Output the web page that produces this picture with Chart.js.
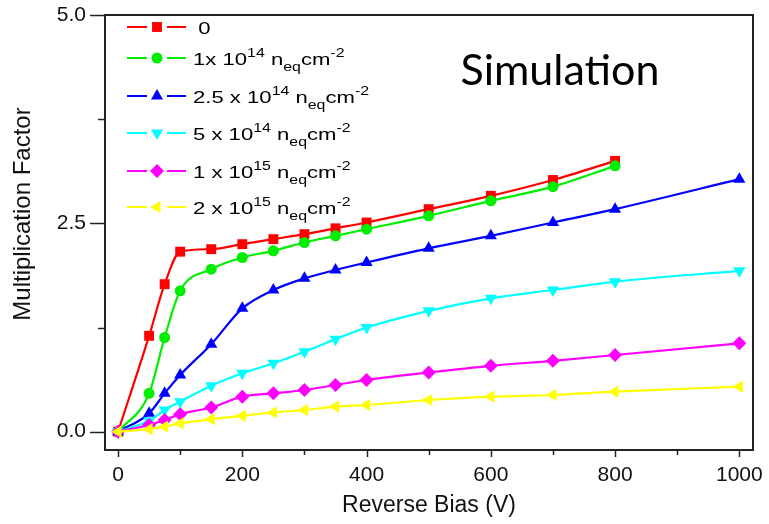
<!DOCTYPE html>
<html>
<head>
<meta charset="utf-8">
<script src="https://cdn.jsdelivr.net/npm/chart.js@4"></script>
<style>
  html, body { margin: 0; padding: 0; background: #fff; }
  #wrap { width: 769px; height: 524px; }
</style>
</head>
<body>
<div id="wrap"><canvas id="mfChart"></canvas></div>
<script>
// reverse bias points (V)
const bias = [0, 50, 75, 100, 150, 200, 250, 300, 350, 400, 500, 600, 700, 800, 1000];

// multiplication factor per fluence
const mf0     = [0, 1.15, 1.77, 2.16, 2.19, 2.25, 2.31, 2.37, 2.44, 2.51, 2.67, 2.83, 3.02, 3.25, null];
const mf1e14  = [0, 0.46, 1.13, 1.69, 1.95, 2.09, 2.17, 2.27, 2.35, 2.43, 2.59, 2.77, 2.94, 3.19, null];
const mf25e14 = [0, 0.22, 0.46, 0.68, 1.05, 1.48, 1.70, 1.84, 1.94, 2.03, 2.20, 2.35, 2.51, 2.67, 3.03];
const mf5e14  = [0, 0.13, 0.26, 0.36, 0.55, 0.70, 0.82, 0.96, 1.11, 1.25, 1.45, 1.60, 1.70, 1.80, 1.93];
const mf1e15  = [0, 0.08, 0.14, 0.21, 0.29, 0.42, 0.46, 0.50, 0.56, 0.62, 0.71, 0.79, 0.85, 0.92, 1.06];
const mf2e15  = [0, 0.03, 0.06, 0.10, 0.15, 0.19, 0.23, 0.26, 0.30, 0.32, 0.38, 0.42, 0.44, 0.48, 0.54];

// legend text: ^{..} superscript, _{..} subscript
const seriesLabels = [
  '0',
  '1x 10^{14} n_{eq}cm^{-2}',
  '2.5 x 10^{14} n_{eq}cm^{-2}',
  '5 x 10^{14} n_{eq}cm^{-2}',
  '1 x 10^{15} n_{eq}cm^{-2}',
  '2 x 10^{15} n_{eq}cm^{-2}'
];

const xTicks = [0, 100, 200, 300, 400, 500, 600, 700, 800, 900, 1000];
const yTicks = [0, 1.25, 2.5, 3.75, 5];

const colors = ['#ff0000', '#00ee00', '#0000ff', '#00ffff', '#ff00ff', '#ffff00'];
const styles = [
  { pointStyle: 'rect', rotation: 0, radius: 7 },
  { pointStyle: 'circle', rotation: 0, radius: 5.5 },
  { pointStyle: 'triangle', rotation: 0, radius: 7 },
  { pointStyle: 'triangle', rotation: 180, radius: 7 },
  { pointStyle: 'rectRot', rotation: 0, radius: 7 },
  { pointStyle: 'triangle', rotation: 270, radius: 7 }
];

const series = [mf0, mf1e14, mf25e14, mf5e14, mf1e15, mf2e15];

const datasets = series.map((vals, i) => ({
  label: seriesLabels[i],
  data: bias.map((b, k) => ({ x: b, y: vals[k] })).filter(p => p.y !== null),
  borderColor: colors[i],
  backgroundColor: colors[i],
  borderWidth: 2.2,
  pointStyle: styles[i].pointStyle,
  pointRotation: styles[i].rotation,
  pointRadius: styles[i].radius,
  pointHoverRadius: styles[i].radius,
  pointBorderWidth: 0,
  cubicInterpolationMode: 'monotone',
  order: series.length - i
}));

const FONT = '"Liberation Sans", Arial, sans-serif';

// draw text with simple ^{} / _{} markup
function drawRich(ctx, text, x, y, size) {
  const parts = text.split(/(\^\{[^}]*\}|_\{[^}]*\})/).filter(s => s.length);
  let cx = x;
  parts.forEach(p => {
    let t = p, dy = 0, fs = size;
    if (p.startsWith('^{')) { t = p.slice(2, -1); dy = -8; fs = size * 0.72; }
    else if (p.startsWith('_{')) { t = p.slice(2, -1); dy = 6; fs = size * 0.72; }
    ctx.font = fs + 'px ' + FONT;
    ctx.fillText(t, cx, y + dy);
    cx += ctx.measureText(t).width;
  });
}

const framePlugin = {
  id: 'frame',
  beforeDatasetsDraw(chart) {
    const { ctx, chartArea: a, scales } = chart;
    ctx.save();
    ctx.strokeStyle = '#222';
    ctx.lineWidth = 2;
    ctx.strokeRect(a.left, a.top, a.right - a.left, a.bottom - a.top);
    ctx.lineWidth = 1.5;
    ctx.beginPath();
    xTicks.forEach(v => {
      const px = Math.round(scales.x.getPixelForValue(v)) + 0.5;
      const len = v % 200 === 0 ? 7 : 5;
      ctx.moveTo(px, a.bottom);
      ctx.lineTo(px, a.bottom + len);
    });
    yTicks.forEach(v => {
      const py = Math.round(scales.y.getPixelForValue(v)) + 0.5;
      const len = v % 2.5 === 0 ? 15 : 7;
      ctx.moveTo(a.left, py);
      ctx.lineTo(a.left - len, py);
    });
    ctx.stroke();

    // y axis title
    ctx.save();
    ctx.translate(23, 214);
    ctx.rotate(-Math.PI / 2);
    ctx.font = '24px ' + FONT;
    ctx.fillStyle = '#111';
    ctx.textAlign = 'center';
    ctx.textBaseline = 'middle';
    ctx.fillText('Multiplication Factor', 0, 0);
    ctx.restore();
    ctx.restore();
  }
};

const legendPlugin = {
  id: 'inlineLegend',
  afterDatasetsDraw(chart) {
    const ctx = chart.ctx;
    const rows = [27, 58, 96, 133, 171, 207];
    ctx.save();
    chart.data.datasets.forEach((ds, i) => {
      const y = rows[i];
      ctx.strokeStyle = ds.borderColor;
      ctx.fillStyle = ds.backgroundColor;
      ctx.lineWidth = 2.2;
      ctx.beginPath();
      ctx.moveTo(127, y);
      ctx.lineTo(147, y);
      ctx.moveTo(167, y);
      ctx.lineTo(186, y);
      ctx.stroke();
      Chart.helpers.drawPoint(ctx, {
        pointStyle: ds.pointStyle, rotation: ds.pointRotation,
        radius: ds.pointRadius, borderWidth: 0
      }, 157, y);
      ctx.fillStyle = '#000';
      ctx.textBaseline = 'alphabetic';
      ctx.save();
      ctx.translate(193, y + 7);
      ctx.scale(1.3, 1);
      drawRich(ctx, ds.label, i === 0 ? 4 : 0, 0, 17);
      ctx.restore();
    });
    ctx.font = '43px Lato, "Open Sans", sans-serif';
    ctx.textAlign = 'center';
    ctx.fillStyle = '#000';
    ctx.fillText('Simulation', 560, 85);
    ctx.restore();
  }
};

const ctx = document.getElementById('mfChart').getContext('2d');
const mfChart = new Chart(ctx, {
  type: 'line',
  data: { datasets: datasets },
  options: {
    responsive: true,
    maintainAspectRatio: false,
    animation: false,
    layout: { padding: { left: 8, right: 16, top: 15, bottom: 4 } },
    plugins: {
      legend: { display: false },
      tooltip: { enabled: false }
    },
    scales: {
      x: {
        type: 'linear',
        min: -21,
        max: 1022,
        afterBuildTicks: s => { s.ticks = xTicks.map(v => ({ value: v })); },
        afterFit: s => { s.height = 70; s.paddingLeft = 0; s.paddingRight = 0; },
        grid: { display: false, drawTicks: false },
        border: { display: false },
        ticks: {
          autoSkip: false,
          maxRotation: 0,
          padding: 13,
          color: '#111',
          font: { family: FONT, size: 21 },
          callback: v => (v % 200 === 0 ? String(v) : '')
        },
        title: {
          display: true,
          text: 'Reverse Bias (V)',
          color: '#111',
          padding: { top: 0, bottom: 1 },
          font: { family: FONT, size: 23 }
        }
      },
      y: {
        min: -0.22,
        max: 5,
        afterBuildTicks: s => { s.ticks = yTicks.map(v => ({ value: v })); },
        afterFit: s => { s.width = 97; s.paddingTop = 0; s.paddingBottom = 0; },
        grid: { display: false, drawTicks: false },
        border: { display: false },
        ticks: {
          padding: 19,
          color: '#111',
          font: { family: FONT, size: 21 },
          callback: v => (v % 2.5 === 0 ? v.toFixed(1) : '')
        },
        title: { display: false }
      }
    }
  },
  plugins: [framePlugin, legendPlugin]
});
</script>
</body>
</html>
